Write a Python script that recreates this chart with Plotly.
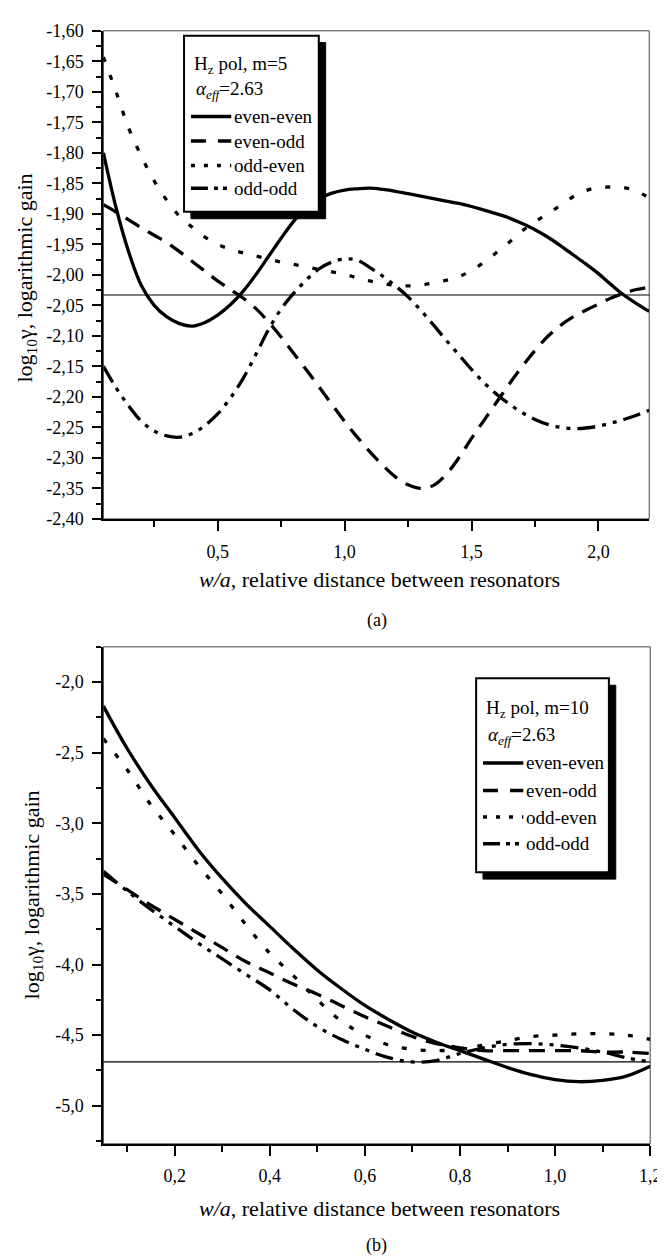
import plotly.graph_objects as go

# ---------------- DATA ----------------
# Panel (a): Hz pol, m=5
xa = [0.05, 0.10, 0.15, 0.20, 0.25, 0.30, 0.35, 0.40, 0.45, 0.50, 0.55, 0.60, 0.65, 0.70,
      0.75, 0.80, 0.85, 0.90, 0.95, 1.00, 1.05, 1.10, 1.15, 1.20, 1.25, 1.30, 1.35, 1.40,
      1.45, 1.50, 1.55, 1.60, 1.65, 1.70, 1.75, 1.80, 1.85, 1.90, 1.95, 2.00, 2.05, 2.10,
      2.15, 2.20]
a_even_even = [-1.800, -1.890, -1.963, -2.018, -2.050, -2.069, -2.080, -2.084, -2.078, -2.066,
               -2.049, -2.027, -2.000, -1.970, -1.940, -1.912, -1.890, -1.875, -1.866, -1.861,
               -1.859, -1.858, -1.860, -1.863, -1.867, -1.871, -1.875, -1.879, -1.883, -1.888,
               -1.894, -1.900, -1.907, -1.916, -1.926, -1.938, -1.952, -1.967, -1.982, -1.998,
               -2.016, -2.033, -2.047, -2.060]
a_even_odd = [-1.885, -1.897, -1.910, -1.923, -1.935, -1.947, -1.962, -1.978, -1.994, -2.010,
              -2.024, -2.038, -2.055, -2.077, -2.102, -2.129, -2.156, -2.184, -2.212, -2.240,
              -2.266, -2.290, -2.312, -2.331, -2.344, -2.350, -2.345, -2.327, -2.300, -2.268,
              -2.238, -2.208, -2.178, -2.150, -2.124, -2.101, -2.083, -2.069, -2.058, -2.048,
              -2.038, -2.030, -2.024, -2.020]
a_odd_even = [-1.643, -1.700, -1.760, -1.806, -1.846, -1.878, -1.904, -1.922, -1.938, -1.950,
              -1.958, -1.964, -1.969, -1.974, -1.979, -1.983, -1.987, -1.991, -1.995, -1.999,
              -2.005, -2.010, -2.014, -2.017, -2.018, -2.017, -2.013, -2.009, -2.003, -1.993,
              -1.979, -1.963, -1.946, -1.928, -1.913, -1.900, -1.886, -1.872, -1.862, -1.857,
              -1.856, -1.857, -1.863, -1.874]
a_odd_odd = [-2.150, -2.185, -2.215, -2.240, -2.256, -2.264, -2.266, -2.260, -2.247, -2.228,
             -2.202, -2.170, -2.131, -2.090, -2.056, -2.030, -2.008, -1.990, -1.979, -1.974,
             -1.976, -1.988, -2.002, -2.018, -2.036, -2.058, -2.082, -2.107, -2.131, -2.155,
             -2.177, -2.196, -2.212, -2.226, -2.237, -2.245, -2.250, -2.252, -2.251, -2.248,
             -2.243, -2.237, -2.230, -2.222]
a_ref = -2.033
a_yticks = [-2.40, -2.35, -2.30, -2.25, -2.20, -2.15, -2.10, -2.05, -2.00, -1.95, -1.90,
            -1.85, -1.80, -1.75, -1.70, -1.65, -1.60]
a_yticktext = ["-2,40", "-2,35", "-2,30", "-2,25", "-2,20", "-2,15", "-2,10", "-2,05", "-2,00",
               "-1,95", "-1,90", "-1,85", "-1,80", "-1,75", "-1,70", "-1,65", "-1,60"]
a_xticks = [0.5, 1.0, 1.5, 2.0]
a_xticktext = ["0,5", "1,0", "1,5", "2,0"]

# Panel (b): Hz pol, m=10
xb = [0.05, 0.10, 0.15, 0.20, 0.25, 0.30, 0.35, 0.40, 0.45, 0.50, 0.55, 0.60, 0.65, 0.70,
      0.75, 0.80, 0.85, 0.90, 0.95, 1.00, 1.05, 1.10, 1.15, 1.20]
b_even_even = [-2.17, -2.47, -2.73, -2.96, -3.19, -3.39, -3.57, -3.73, -3.89, -4.04, -4.17,
               -4.29, -4.39, -4.48, -4.55, -4.61, -4.67, -4.73, -4.78, -4.815, -4.83, -4.82,
               -4.79, -4.72]
b_even_odd = [-3.36, -3.47, -3.58, -3.68, -3.78, -3.88, -3.98, -4.06, -4.14, -4.21, -4.29,
              -4.37, -4.44, -4.51, -4.56, -4.59, -4.61, -4.61, -4.61, -4.61, -4.61, -4.62,
              -4.62, -4.63]
b_odd_even = [-2.40, -2.62, -2.87, -3.08, -3.30, -3.50, -3.72, -3.92, -4.08, -4.25, -4.40,
              -4.50, -4.57, -4.60, -4.61, -4.60, -4.57, -4.54, -4.51, -4.50, -4.49, -4.49,
              -4.50, -4.53]
b_odd_odd = [-3.34, -3.48, -3.61, -3.73, -3.85, -3.96, -4.07, -4.18, -4.32, -4.44, -4.53,
             -4.60, -4.66, -4.69, -4.68, -4.63, -4.59, -4.565, -4.56, -4.57, -4.59, -4.62,
             -4.66, -4.69]
b_ref = -4.69
b_yticks = [-5.0, -4.5, -4.0, -3.5, -3.0, -2.5, -2.0]
b_yticktext = ["-5,0", "-4,5", "-4,0", "-3,5", "-3,0", "-2,5", "-2,0"]
b_xticks = [0.2, 0.4, 0.6, 0.8, 1.0, 1.2]
b_xticktext = ["0,2", "0,4", "0,6", "0,8", "1,0", "1,2"]

series_names = ["even-even", "even-odd", "odd-even", "odd-odd"]

# ---------------- STYLE ----------------
W, H = 665, 1260
FONT = "Liberation Serif, Times New Roman, serif"
DASHES = ["solid", "16px,10px", "5px,14px", "18px,7px,4px,7px,4px,7px"]
LEG_DASHES = ["solid", "15px,12px", "4px,9px", "17px,6px,4px,5px,4px,6px"]


def px(x):
    return x / W


def py(y):
    return 1 - y / H


fig = go.Figure()

panels = [
    dict(xs=xa, ys=[a_even_even, a_even_odd, a_odd_even, a_odd_odd], xa="x", ya="y"),
    dict(xs=xb, ys=[b_even_even, b_even_odd, b_odd_even, b_odd_odd], xa="x2", ya="y2"),
]
for p in panels:
    for name, ys, dash in zip(series_names, p["ys"], DASHES):
        fig.add_trace(go.Scatter(x=p["xs"], y=ys, mode="lines", name=name,
                                 line=dict(color="black", width=3.3, dash=dash, shape="spline",
                                           smoothing=1.0),
                                 xaxis=p["xa"], yaxis=p["ya"], showlegend=False))

axis_common = dict(showline=True, linecolor="black", linewidth=2, ticks="outside",
                   tickcolor="black", tickwidth=2, showgrid=False, zeroline=False,
                   tickfont=dict(family=FONT, size=18, color="black"), tickmode="array",
                   ticklabelstandoff=5)

fig.update_layout(
    width=W, height=H, margin=dict(l=0, r=0, t=0, b=0),
    paper_bgcolor="white", plot_bgcolor="white",
    font=dict(family=FONT, size=18, color="black"),
    xaxis=dict(axis_common, domain=[px(97), px(652)], range=[0.05, 2.2], anchor="y",
               tickvals=a_xticks, ticktext=a_xticktext, ticklen=10,
               minor=dict(tickmode="linear", tick0=0, dtick=0.25, ticklen=6, tickwidth=2,
                          tickcolor="black", ticks="outside")),
    yaxis=dict(axis_common, domain=[py(509), py(13)], range=[-2.40, -1.60], anchor="x",
               tickvals=a_yticks, ticktext=a_yticktext, ticklen=9,
               minor=dict(tickmode="linear", tick0=0, dtick=0.025, ticklen=5, tickwidth=2,
                          tickcolor="black", ticks="outside")),
    xaxis2=dict(axis_common, domain=[px(97), px(653)], range=[0.05, 1.2], anchor="y2",
                tickvals=b_xticks, ticktext=b_xticktext, ticklen=10,
                minor=dict(tickmode="linear", tick0=0, dtick=0.1, ticklen=6, tickwidth=2,
                           tickcolor="black", ticks="outside")),
    yaxis2=dict(axis_common, domain=[py(1144), py(639)], range=[-5.27, -1.75], anchor="x2",
                tickvals=b_yticks, ticktext=b_yticktext, ticklen=9,
                minor=dict(tickmode="linear", tick0=0, dtick=0.25, ticklen=5, tickwidth=2,
                           tickcolor="black", ticks="outside")),
)

shapes = []
annotations = []

# thin frames and reference lines
for xr, yr, ref in [("x", "y", a_ref), ("x2", "y2", b_ref)]:
    shapes.append(dict(type="rect", xref=f"{xr} domain", yref=f"{yr} domain", x0=0, x1=1,
                       y0=0, y1=1, line=dict(color="#444", width=1), layer="below"))
    shapes.append(dict(type="line", xref=f"{xr} domain", yref=yr, x0=0, x1=1, y0=ref, y1=ref,
                       line=dict(color="black", width=1.2)))

# legends drawn as boxes with drop shadow
legends = [
    dict(box=(179, 18, 316, 197), title1="H<sub>z</sub> pol, m=5", rows=[48, 73, 100, 125, 150, 173],
         lx=(186, 227)),
    dict(box=(476, 671, 611, 868), title1="H<sub>z</sub> pol, m=10", rows=[702, 730, 757, 785, 812, 839],
         lx=(483, 524)),
]
for lg in legends:
    x0, y0, x1, y1 = lg["box"]
    shapes.append(dict(type="rect", xref="paper", yref="paper", x0=px(x0 + 7), x1=px(x1 + 7),
                       y0=py(y1 + 7), y1=py(y0 + 7), fillcolor="black",
                       line=dict(color="black", width=1)))
    shapes.append(dict(type="rect", xref="paper", yref="paper", x0=px(x0), x1=px(x1),
                       y0=py(y1), y1=py(y0), fillcolor="white",
                       line=dict(color="black", width=2)))
    r = lg["rows"]
    annotations.append(dict(xref="paper", yref="paper", x=px(x0 + 8), y=py(r[0]),
                            text=lg["title1"], showarrow=False, xanchor="left", yanchor="middle",
                            font=dict(family=FONT, size=19, color="black")))
    annotations.append(dict(xref="paper", yref="paper", x=px(x0 + 10), y=py(r[1]),
                            text="<i>α<sub>eff</sub></i>=2.63", showarrow=False, xanchor="left",
                            yanchor="middle", font=dict(family=FONT, size=19, color="black")))
    for name, dash, yy in zip(series_names, LEG_DASHES, r[2:]):
        shapes.append(dict(type="line", xref="paper", yref="paper", x0=px(lg["lx"][0]),
                           x1=px(lg["lx"][1]), y0=py(yy), y1=py(yy),
                           line=dict(color="black", width=3.5, dash=dash)))
        annotations.append(dict(xref="paper", yref="paper", x=px(lg["lx"][1] + 1), y=py(yy),
                                text=name, showarrow=False, xanchor="left", yanchor="middle",
                                font=dict(family=FONT, size=19, color="black")))

# axis titles and captions
ytitle = "log<sub>10</sub>γ, logarithmic gain"
xtitle = "<i>w/a</i>, relative distance between resonators"
for cy, cx in [(264, 18), (891, 25)]:
    annotations.append(dict(xref="paper", yref="paper", x=px(cx), y=py(cy), text=ytitle,
                            textangle=-90, showarrow=False, xanchor="center", yanchor="middle",
                            font=dict(family=FONT, size=22, color="black")))
for ty in [571, 1210]:
    annotations.append(dict(xref="paper", yref="paper", x=px(378), y=py(ty), text=xtitle,
                            showarrow=False, xanchor="center", yanchor="middle",
                            font=dict(family=FONT, size=22, color="black")))
for cap, cy in [("(a)", 612), ("(b)", 1247)]:
    annotations.append(dict(xref="paper", yref="paper", x=px(375), y=py(cy), text=cap,
                            showarrow=False, xanchor="center", yanchor="middle",
                            font=dict(family=FONT, size=18, color="black")))

fig.update_layout(shapes=shapes, annotations=annotations)
fig.write_html("out.html")
